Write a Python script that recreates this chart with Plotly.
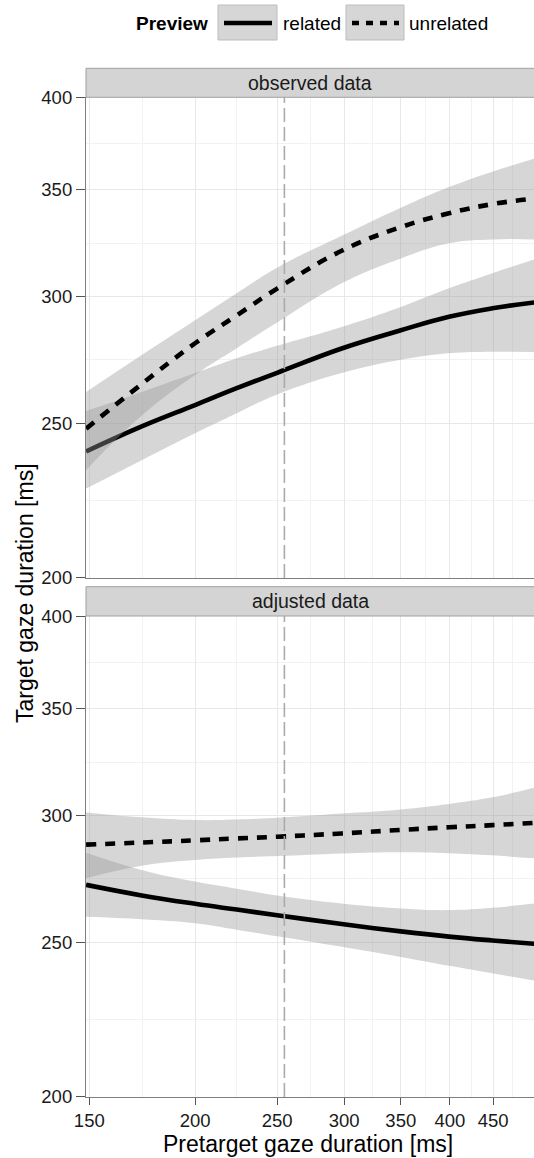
import math
import plotly.graph_objects as go

# ---------------- data ----------------
x_vals = [148.7, 173, 200, 224, 250, 298, 350, 399, 449, 503]

# observed data panel
obs_rel_fit   = [240.0, 248.8, 256.6, 262.9, 268.8, 278.4, 285.8, 291.4, 295.0, 297.5]
obs_rel_upper = [254.4, 261.5, 268.7, 274.5, 279.5, 287.2, 295.6, 303.6, 310.3, 316.5]
obs_rel_lower = [227.5, 237.0, 246.4, 253.6, 260.5, 268.7, 273.9, 276.5, 277.1, 277.0]
obs_unr_fit   = [248.0, 264.5, 280.5, 292.0, 303.5, 320.5, 331.6, 338.3, 342.8, 345.5]
obs_unr_upper = [261.5, 275.8, 290.0, 301.5, 312.8, 327.5, 341.0, 351.3, 359.2, 366.0]
obs_unr_lower = [233.7, 252.8, 268.0, 278.5, 289.0, 305.8, 317.0, 324.0, 325.8, 325.8]

# adjusted data panel
adj_rel_fit   = [271.5, 267.4, 264.2, 262.0, 259.9, 256.6, 253.9, 252.0, 250.6, 249.4]
adj_rel_upper = [284.4, 277.4, 272.8, 270.0, 267.4, 264.3, 262.4, 261.8, 262.7, 264.3]
adj_rel_lower = [259.3, 258.4, 256.9, 254.5, 252.1, 248.3, 244.7, 241.6, 239.0, 236.5]
adj_unr_fit   = [287.7, 288.6, 289.5, 290.3, 291.0, 292.4, 293.9, 295.0, 295.9, 296.9]
adj_unr_upper = [301.4, 299.3, 298.1, 298.3, 299.1, 300.9, 302.7, 305.1, 308.0, 312.3]
adj_unr_lower = [274.1, 279.1, 281.4, 282.4, 283.0, 284.1, 284.6, 284.2, 283.3, 282.1]

vline_x = 255
x_ticks = [150, 200, 250, 300, 350, 400, 450]
x_minor = [173.2, 223.6, 273.9, 324.0, 374.2, 424.3, 474.3]
y_ticks = [200, 250, 300, 350, 400]
y_minor = [223.6, 273.9, 324.0, 374.2]
panel_titles = ["observed data", "adjusted data"]
legend_title = "Preview"
legend_labels = ["related", "unrelated"]

# ---------------- layout geometry ----------------
W, H = 534, 1158
FONT = "Liberation Sans, Arial, Helvetica, sans-serif"
RIBBON = "rgba(153,153,153,0.4)"
SM = 1.2


def py(p):
    return 1 - p / H


def px(p):
    return p / W


fig = go.Figure()

panels = [
    ("x", "y", obs_rel_fit, obs_rel_upper, obs_rel_lower, obs_unr_fit, obs_unr_upper, obs_unr_lower),
    ("x2", "y2", adj_rel_fit, adj_rel_upper, adj_rel_lower, adj_unr_fit, adj_unr_upper, adj_unr_lower),
]

for xa, ya, rf, ru, rl, uf, uu, ul in panels:
    groups = [(rl, ru, rf, "solid", legend_labels[0]), (ul, uu, uf, "10px,9px", legend_labels[1])]
    for lower, upper, fit, dash, name in groups:
        # confidence ribbon
        fig.add_trace(go.Scatter(x=x_vals, y=lower, xaxis=xa, yaxis=ya, mode="lines",
                                 line=dict(width=0, shape="spline", smoothing=SM), showlegend=False,
                                 hoverinfo="skip"))
        fig.add_trace(go.Scatter(x=x_vals, y=upper, xaxis=xa, yaxis=ya, mode="lines",
                                 line=dict(width=0, shape="spline", smoothing=SM), fill="tonexty",
                                 fillcolor=RIBBON, showlegend=False, hoverinfo="skip"))
        # fitted line
        fig.add_trace(go.Scatter(x=x_vals, y=fit, xaxis=xa, yaxis=ya, mode="lines",
                                 line=dict(color="black", width=4.6, shape="spline", smoothing=SM,
                                           dash=dash),
                                 name=name, showlegend=False))
    # vertical reference line
    fig.add_trace(go.Scatter(x=[vline_x, vline_x], y=[y_ticks[0], y_ticks[-1]], xaxis=xa, yaxis=ya,
                             mode="lines", line=dict(color="#ababab", width=1.6, dash="14px,5px"),
                             showlegend=False, hoverinfo="skip"))

xr = [math.log10(148.66), math.log10(502.8)]
yr = [math.log10(199.98), math.log10(400.02)]

tickfont = dict(family=FONT, size=18.5, color="#1a1a1a")
common_x = dict(type="log", range=xr, domain=[px(86), 1.0], tickmode="array", tickvals=x_ticks,
                ticktext=[str(v) for v in x_ticks], showgrid=True, gridcolor="#e8e8e8", gridwidth=1.1,
                minor=dict(tickmode="array", tickvals=x_minor, showgrid=True, gridcolor="#f2f2f2",
                           gridwidth=1, ticks=""),
                showline=True, linecolor="#7f7f7f", linewidth=1.2, zeroline=False, fixedrange=True,
                automargin=False, tickfont=tickfont)
common_y = dict(type="log", range=yr, tickmode="array", tickvals=y_ticks,
                ticktext=[str(v) for v in y_ticks], showgrid=True, gridcolor="#e8e8e8", gridwidth=1.1,
                minor=dict(tickmode="array", tickvals=y_minor, showgrid=True, gridcolor="#f2f2f2",
                           gridwidth=1, ticks=""),
                showline=True, linecolor="#7f7f7f", linewidth=1.2, zeroline=False, fixedrange=True,
                ticks="outside", ticklen=9, tickcolor="#555555", tickwidth=1.2,
                automargin=False, tickfont=tickfont)

fig.update_layout(
    template="none",
    width=W, height=H,
    margin=dict(l=0, r=0, t=0, b=0, pad=0, autoexpand=False),
    paper_bgcolor="white", plot_bgcolor="white",
    showlegend=False,
    font=dict(family=FONT, color="black"),
    xaxis=dict(common_x, anchor="y", showticklabels=False, ticks=""),
    xaxis2=dict(common_x, anchor="y2", showticklabels=True, ticks="outside", ticklen=7,
                tickcolor="#555555", tickwidth=1.2),
    yaxis=dict(common_y, anchor="x", domain=[py(578), py(97)]),
    yaxis2=dict(common_y, anchor="x2", domain=[py(1097), py(616)]),
)

shapes = []
annotations = []

# facet strips
for (top, bot), title in zip([(68.3, 97.3), (586.7, 616.0)], panel_titles):
    shapes.append(dict(type="rect", xref="paper", yref="paper", x0=px(86), x1=1.01,
                       y0=py(bot), y1=py(top), fillcolor="#d4d4d4",
                       line=dict(color="#a0a0a0", width=1), layer="above"))
    annotations.append(dict(text=title, xref="paper", yref="paper", x=px(310), y=py((top + bot) / 2),
                            xanchor="center", yanchor="middle", showarrow=False,
                            font=dict(family=FONT, size=19.5, color="#1a1a1a")))

# axis titles
annotations.append(dict(text="Pretarget gaze duration [ms]", xref="paper", yref="paper",
                        x=px(308), y=py(1144), xanchor="center", yanchor="middle", showarrow=False,
                        font=dict(family=FONT, size=23, color="black")))
annotations.append(dict(text="Target gaze duration [ms]", xref="paper", yref="paper",
                        x=px(25), y=py(593), xanchor="center", yanchor="middle", showarrow=False,
                        textangle=-90, font=dict(family=FONT, size=23, color="black")))

# legend (drawn manually, ggplot style)
annotations.append(dict(text="<b>" + legend_title + "</b>", xref="paper", yref="paper",
                        x=px(210), y=py(23), xanchor="right", yanchor="middle", showarrow=False,
                        font=dict(family=FONT, size=19, color="black")))
keys = [(218, 277, "solid", 281), (346, 404, "7px,7px", 407)]
for (k0, k1, dash, tx), lab in zip(keys, legend_labels):
    shapes.append(dict(type="rect", xref="paper", yref="paper", x0=px(k0), x1=px(k1),
                       y0=py(40), y1=py(5), fillcolor="#d6d6d6",
                       line=dict(color="#bdbdbd", width=1)))
    shapes.append(dict(type="line", xref="paper", yref="paper", x0=px(k0 + 6), x1=px(k1 - 5),
                       y0=py(23), y1=py(23), line=dict(color="black", width=4.5, dash=dash)))
    annotations.append(dict(text=lab, xref="paper", yref="paper", x=px(tx), y=py(23),
                            xanchor="left", yanchor="middle", showarrow=False,
                            font=dict(family=FONT, size=19, color="black")))

fig.update_layout(shapes=shapes, annotations=annotations)

fig.write_html("out.html", config={"displayModeBar": False})
